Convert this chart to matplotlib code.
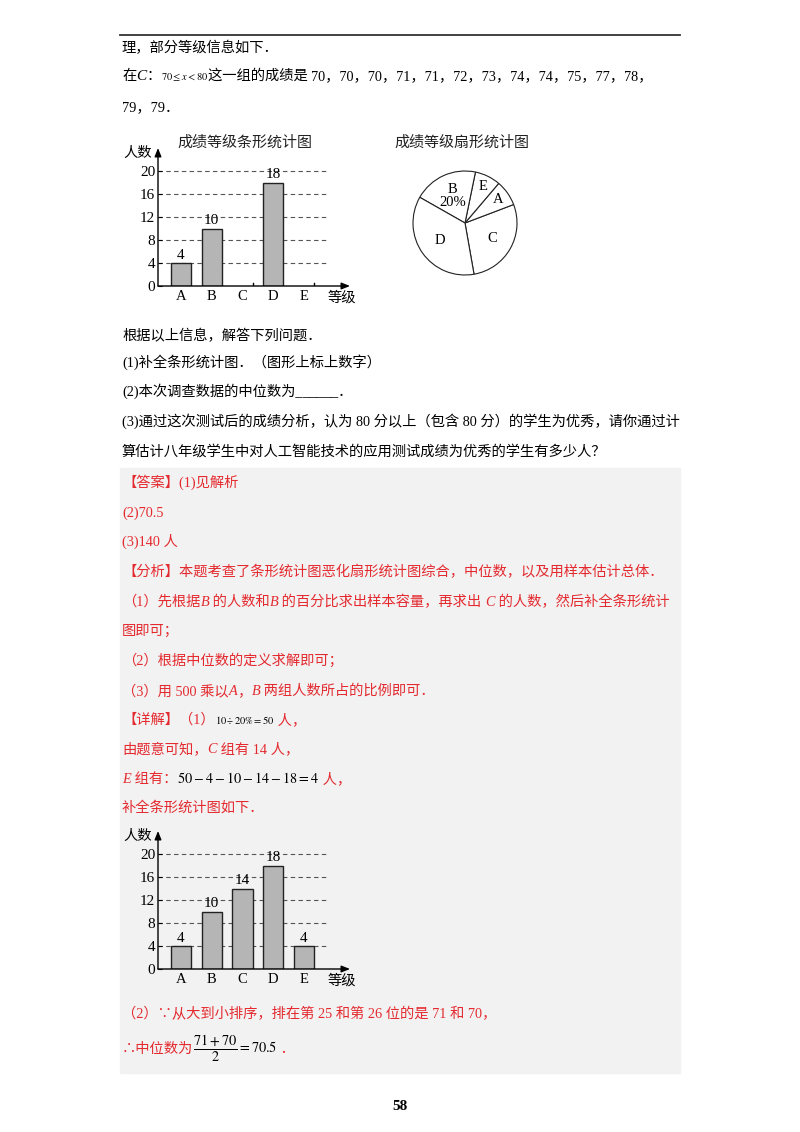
import matplotlib
matplotlib.use('Agg')
import matplotlib.pyplot as plt
from matplotlib.patches import Rectangle
from matplotlib.lines import Line2D
import numpy as np

# data
grades = ['A', 'B', 'C', 'D', 'E']
counts = [4, 10, 14, 18, 4]
missing_in_question = ['C', 'E']
c_scores = [70, 70, 70, 71, 71, 72, 73, 74, 74, 75, 77, 78, 79, 79]
yticks = [0, 4, 8, 12, 16, 20]
pie_order = ['C', 'A', 'E', 'B', 'D']
total = sum(counts)

SERIF = 'Liberation Serif'
CJK = 'Noto Sans CJK SC'
plt.rcParams['font.family'] = [SERIF, CJK, 'DejaVu Sans']
plt.rcParams['mathtext.fontset'] = 'stix'
RED = '#e42a2f'
BODY = 10.3
ital = {'style': 'italic', 'family': SERIF}

W, H = 800, 1132
fig = plt.figure(figsize=(W / 100, H / 100), dpi=100)
rend = fig.canvas.get_renderer()


def fx(x):
    return x / W


def fy(y):
    return 1 - y / H


def put(x, y, s, size=BODY, color='black', ha='left', va='baseline', **kw):
    return fig.text(fx(x), fy(y), s, fontsize=size, color=color, ha=ha, va=va, **kw)


def row(x, y, pieces, color='black', size=BODY):
    for p in pieces:
        if isinstance(p, str):
            p = (p, {})
        s, kw = p
        opts = dict(color=color, size=size)
        opts.update(kw)
        t = put(x, y, s, **opts)
        x += t.get_window_extent(renderer=rend).width
    return x


# page furniture
fig.add_artist(Line2D([fx(120), fx(680)], [fy(35), fy(35)], color='#333', lw=1.3))
fig.add_artist(Rectangle((fx(120), fy(1073)), (680 - 120) / W, (1073 - 468) / H,
                         transform=fig.transFigure, color='#f2f2f2', zorder=-5))


def bar_chart(y0, vals, hidden):
    ax = fig.add_axes([fx(158), fy(y0), (350 - 158) / W, 138 / H])
    ax.patch.set_alpha(0)
    for s in ax.spines.values():
        s.set_visible(False)
    ax.set_xlim(-0.75, 5.5)
    ax.set_ylim(0, 24)
    ax.hlines(yticks[1:], -0.75, 4.75, colors='#555', lw=0.8,
              linestyles=(0, (4, 3)), zorder=1)
    xs = np.arange(len(grades))
    for xi, g, v in zip(xs, grades, vals):
        if g in hidden:
            ax.plot([xi + 0.333] * 2, [0, 0.5], color='k', lw=1)
            continue
        ax.bar(xi, v, width=0.667, color='#b5b5b5', edgecolor='#222', lw=1, zorder=2)
        ax.text(xi, v + 0.2, str(v), ha='center', va='bottom', fontsize=11, family=SERIF)
    arrow = dict(arrowstyle='-|>,head_length=0.5,head_width=0.2', color='k', lw=1,
                 shrinkA=0, shrinkB=0)
    ax.annotate('', xy=(5.5, 0), xytext=(-0.75, 0), arrowprops=arrow, annotation_clip=False)
    ax.annotate('', xy=(-0.75, 24), xytext=(-0.75, 0), arrowprops=arrow, annotation_clip=False)
    ax.set_yticks(yticks)
    ax.set_yticklabels([str(t) for t in yticks], family=SERIF, fontsize=11)
    ax.set_xticks(xs)
    ax.set_xticklabels(grades, family=SERIF, fontsize=10.5)
    ax.tick_params(axis='y', direction='in', length=3, pad=2)
    ax.tick_params(axis='x', length=0, pad=3)
    put(123, y0 - 133, '人数', va='center')
    put(328, y0 + 12, '等级', va='center')
    return ax


# question text
row(122, 52, ['理，部分等级信息如下．'])
row(122, 80, ['在', ('C', dict(ital, size=11)), '：', (r'$70\leq x<80$', {'size': 7.5}), '这一组的成绩是 ',
              '，'.join(str(s) for s in c_scores[:12]) + '，'])
row(122, 111, ['，'.join(str(s) for s in c_scores[12:]) + '．'])

put(245, 147, '成绩等级条形统计图', ha='center', size=10.8, color='#222')
put(462, 147, '成绩等级扇形统计图', ha='center', size=10.8, color='#222')

bar_chart(286, counts, missing_in_question)

# pie chart
R, cx, cy, pad = 52, 465, 223, 60
axp = fig.add_axes([fx(cx - pad), fy(cy + pad), 2 * pad / W, 2 * pad / H])
pie_vals = [counts[grades.index(g)] for g in pie_order]
wedges, _ = axp.pie(pie_vals, radius=1, startangle=280, counterclock=True,
                    colors=['white'] * 5, wedgeprops=dict(edgecolor='#222', lw=0.8))
axp.set_xlim(-pad / R, pad / R)
axp.set_ylim(-pad / R, pad / R)
axp.axis('off')
lab_r = {'A': 0.78, 'E': 0.78, 'C': 0.6, 'D': 0.6, 'B': 0.56}
for w, g, v in zip(wedges, pie_order, pie_vals):
    mid = np.deg2rad((w.theta1 + w.theta2) / 2)
    s = g if g != 'B' else 'B\n%d%%' % round(100 * v / total)
    axp.text(lab_r[g] * np.cos(mid), lab_r[g] * np.sin(mid), s, ha='center', va='center',
             fontsize=10.5, family=SERIF, linespacing=1.0)

row(122, 340, ['根据以上信息，解答下列问题．'])
row(122, 367, ['(1)补全条形统计图．（图形上标上数字）'])
row(122, 396, ['(2)本次调查数据的中位数为______．'])
row(122, 426, ['(3)通过这次测试后的成绩分析，认为 80 分以上（包含 80 分）的学生为优秀，请你通过计'])
row(122, 456, ['算估计八年级学生中对人工智能技术的应用测试成绩为优秀的学生有多少人？'])

# answer block
row(122, 487, ['【答案】(1)见解析'], color=RED)
row(122, 517, ['(2)70.5'], color=RED)
row(122, 546, ['(3)140 人'], color=RED)
row(122, 576, ['【分析】本题考查了条形统计图恶化扇形统计图综合，中位数，以及用样本估计总体．'], color=RED)
row(122, 606, ['（1）先根据', ('B', ital), ' 的人数和', ('B', ital), ' 的百分比求出样本容量，再求出 ',
               ('C', ital), ' 的人数，然后补全条形统计'], color=RED)
row(122, 635, ['图即可；'], color=RED)
row(122, 665, ['（2）根据中位数的定义求解即可；'], color=RED)
row(122, 695, ['（3）用 500 乘以', ('A', ital), '，', ('B', ital), ' 两组人数所占的比例即可．'], color=RED)
row(122, 724, ['【详解】（1）', (r'$10\div20\%=50$', {'size': 7.5, 'color': 'black'}), ' 人，'], color=RED)
row(122, 753, ['由题意可知，', ('C', ital), ' 组有 14 人，'], color=RED)
row(122, 783, [('E', ital), ' 组有：', (r'$50-4-10-14-18=4$', {'color': 'black'}), ' 人，'], color=RED)
row(122, 812, ['补全条形统计图如下．'], color=RED)

bar_chart(969, counts, [])

row(122, 1018, ['（2）∵从大到小排序，排在第 25 和第 26 位的是 71 和 70，'], color=RED)
row(122, 1053, ['∴中位数为', (r'$\dfrac{71+70}{2}=70.5$', {'color': 'black'}), ' ．'], color=RED)

put(400, 1110, '58', ha='center', size=11, weight='bold', family=SERIF)

fig.savefig('out.png', dpi=100)
